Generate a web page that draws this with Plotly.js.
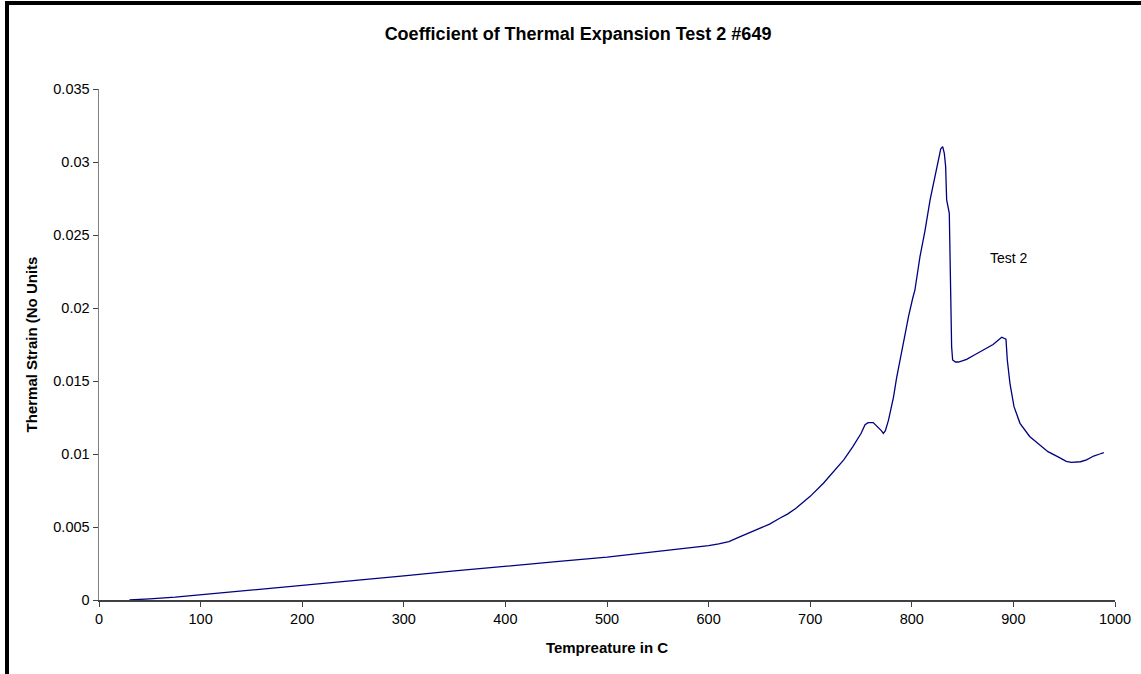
<!DOCTYPE html>
<html>
<head>
<meta charset="utf-8">
<script src="https://cdn.plot.ly/plotly-3.0.1.min.js"></script>
<style>
  html, body { margin: 0; padding: 0; background: #fff; overflow: hidden; }
  #chart { width: 1141px; height: 674px; }
  #frame { position: absolute; left: 5px; top: 1px; width: 2000px; height: 2000px;
           border-left: 4px solid #000; border-top: 4px solid #000; pointer-events: none; }
</style>
</head>
<body>
<div id="chart"></div>
<div id="frame"></div>
<script>
const temperature = [30, 40, 50, 75, 100, 125, 150, 175, 200, 250, 300, 350, 400, 450, 500, 550, 600, 610, 620, 630, 637, 645, 653, 660, 670, 678, 686, 693, 700, 713, 725, 733, 742, 750, 754, 757, 762, 766, 770, 772, 774, 777, 782, 785, 788, 793, 797, 801, 803, 808, 813, 818, 823, 826, 828.5, 830.4, 832, 833.3, 834.3, 836.9, 837.6, 838.3, 839.2, 840.2, 843, 846, 850, 854, 862, 870, 880, 888.5, 892.7, 894, 896.6, 900.6, 906.5, 916, 925, 934, 944, 952, 957, 966, 972, 979, 985, 989];
const strain = [0, 0.00002, 0.00008, 0.0002, 0.00036, 0.00052, 0.00068, 0.00083, 0.00098, 0.00128, 0.00165, 0.00199, 0.00233, 0.00263, 0.00293, 0.00332, 0.00372, 0.00385, 0.0040, 0.0043, 0.00452, 0.00478, 0.0050, 0.0052, 0.0056, 0.0059, 0.00628, 0.0067, 0.0071, 0.0080, 0.0090, 0.0096, 0.0105, 0.0114, 0.0120, 0.01215, 0.01215, 0.0119, 0.0116, 0.01141, 0.0116, 0.0123, 0.0139, 0.0152, 0.0163, 0.0182, 0.0195, 0.0207, 0.0212, 0.0235, 0.0253, 0.0274, 0.0290, 0.0301, 0.0309, 0.03105, 0.0306, 0.0297, 0.0274, 0.0265, 0.0242, 0.0197, 0.01735, 0.01644, 0.0163, 0.0163, 0.0164, 0.01648, 0.0168, 0.0171, 0.0175, 0.0180, 0.01786, 0.01644, 0.01484, 0.01324, 0.0121, 0.0112, 0.0107, 0.01016, 0.0098, 0.0095, 0.00943, 0.00947, 0.0096, 0.00986, 0.0100, 0.0101];
const seriesName = "Test 2";
const xTicks = [0, 100, 200, 300, 400, 500, 600, 700, 800, 900, 1000];
const yTicks = [0, 0.005, 0.01, 0.015, 0.02, 0.025, 0.03, 0.035];
const yTickLabels = ["0", "0.005", "0.01", "0.015", "0.02", "0.025", "0.03", "0.035"];
const titleText = "Coefficient of Thermal Expansion Test 2 #649";
const xTitle = "Tempreature in C";
const yTitle = "Thermal Strain (No Units";

const font = "Arial, 'Liberation Sans', sans-serif";

Plotly.newPlot("chart", [{
  x: temperature, y: strain, type: "scatter", mode: "lines", name: seriesName,
  line: { color: "#000080", width: 1.3 }, hoverinfo: "x+y"
}], {
  width: 1141, height: 674,
  paper_bgcolor: "#ffffff", plot_bgcolor: "#ffffff",
  margin: { l: 99, r: 26, t: 89, b: 74 },
  showlegend: false,
  font: { family: font, color: "#000", size: 14 },
  title: { text: "<b>" + titleText + "</b>", font: { family: font, size: 18, color: "#000" },
           x: 0.5066, xref: "container", xanchor: "center", y: 0.9496, yref: "container", yanchor: "middle" },
  xaxis: {
    range: [0, 1000], tickvals: xTicks, ticktext: xTicks.map(String),
    showgrid: false, zeroline: false, showline: true, linecolor: "#404040", linewidth: 1.5,
    ticks: "outside", ticklen: 5, tickcolor: "#404040", tickwidth: 1,
    tickfont: { family: font, size: 14.5, color: "#000" },
    title: { text: "<b>" + xTitle + "</b>", font: { family: font, size: 15, color: "#000" }, standoff: 16 }
  },
  yaxis: {
    range: [0, 0.035], tickvals: yTicks, ticktext: yTickLabels,
    showgrid: false, zeroline: false, showline: true, linecolor: "#808080", linewidth: 1.5,
    ticks: "outside", ticklen: 5, tickcolor: "#404040", tickwidth: 1,
    tickfont: { family: font, size: 14.5, color: "#000" },
    title: { text: "<b>" + yTitle + "</b>", font: { family: font, size: 15, color: "#000" }, standoff: 12 }
  },
  annotations: [{
    x: 875, y: 0.0234, xref: "x", yref: "y", text: seriesName, showarrow: false,
    xanchor: "left", yanchor: "middle", font: { family: font, size: 14, color: "#000" }
  }]
}, { displayModeBar: false, staticPlot: true });
</script>
</body>
</html>
